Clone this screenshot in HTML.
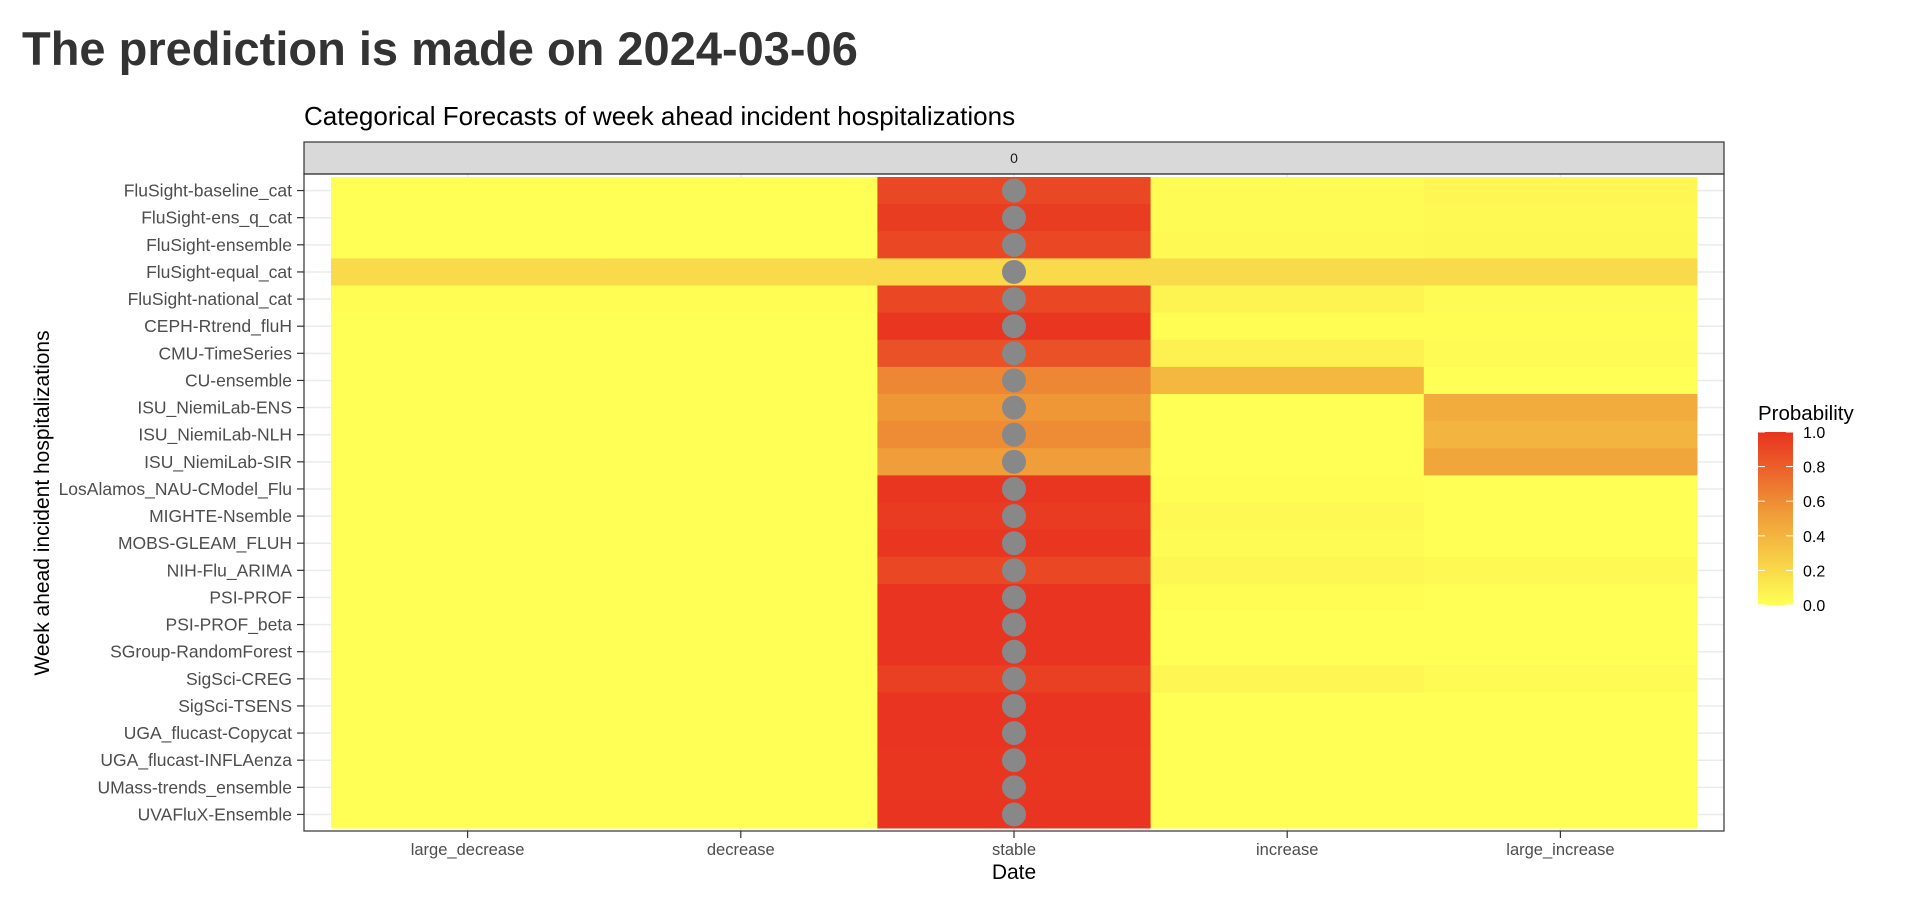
<!DOCTYPE html>
<html><head><meta charset="utf-8"><style>
body{margin:0;background:#fff;}
svg text{font-family:"Liberation Sans",sans-serif;}
</style></head><body>
<svg id="chart" width="1906" height="900" xmlns="http://www.w3.org/2000/svg">
<rect width="1906" height="900" fill="#fff"/>
<text x="22" y="65" font-size="47" font-weight="bold" fill="#333">The prediction is made on 2024-03-06</text>
<text x="304" y="125" font-size="26" fill="#000">Categorical Forecasts of week ahead incident hospitalizations</text>
<g id="grid"></g>
<g id="tiles"></g>
<g id="dots"></g>
<rect x="304" y="142" width="1420" height="32" fill="#d9d9d9" stroke="#333" stroke-width="1.2"/>
<text x="1014" y="163" font-size="14" text-anchor="middle" fill="#1a1a1a" font-family="Liberation Serif">0</text>
<rect x="304" y="174" width="1420" height="657" fill="none" stroke="#333" stroke-width="1.2"/>
<g id="yaxis"></g>
<g id="xaxis"></g>
<text x="1014" y="879" font-size="21" text-anchor="middle" fill="#000">Date</text>
<text transform="translate(49,503) rotate(-90)" font-size="21" text-anchor="middle" fill="#000">Week ahead incident hospitalizations</text>
<g>
<defs><linearGradient id="grad" x1="0" y1="1" x2="0" y2="0">
<stop offset="0" stop-color="#ffff55"/><stop offset="0.5" stop-color="#f0a23a"/><stop offset="1" stop-color="#e8321f"/></linearGradient></defs>
<text x="1758" y="420" font-size="20.5" fill="#000">Probability</text>
<rect x="1758" y="432" width="35" height="173" fill="url(#grad)"/>
<g id="legticks"></g>
</g>
</svg>
<script>
const models=["FluSight-baseline_cat","FluSight-ens_q_cat","FluSight-ensemble","FluSight-equal_cat","FluSight-national_cat","CEPH-Rtrend_fluH","CMU-TimeSeries","CU-ensemble","ISU_NiemiLab-ENS","ISU_NiemiLab-NLH","ISU_NiemiLab-SIR","LosAlamos_NAU-CModel_Flu","MIGHTE-Nsemble","MOBS-GLEAM_FLUH","NIH-Flu_ARIMA","PSI-PROF","PSI-PROF_beta","SGroup-RandomForest","SigSci-CREG","SigSci-TSENS","UGA_flucast-Copycat","UGA_flucast-INFLAenza","UMass-trends_ensemble","UVAFluX-Ensemble"];
const categories=["large_decrease","decrease","stable","increase","large_increase"];
const largeDecrease=[0,0,0,0.2,0.01,0,0,0,0,0,0,0,0,0,0,0,0,0,0,0,0,0,0,0];
const decrease=[0,0,0,0.2,0.01,0,0,0,0,0,0,0,0,0,0,0,0,0,0,0,0,0,0,0];
const stable=[0.9,0.95,0.9,0.2,0.9,0.98,0.86,0.62,0.55,0.6,0.52,0.98,0.96,0.98,0.9,0.99,0.99,0.99,0.94,0.99,0.99,0.98,0.98,0.99];
const increase=[0.02,0.02,0.03,0.2,0.06,0.01,0.08,0.38,0,0,0,0.01,0.03,0.02,0.05,0.01,0,0,0.05,0,0,0,0,0];
const largeIncrease=[0.05,0.03,0.04,0.2,0.02,0.01,0.02,0,0.45,0.4,0.48,0,0,0,0.03,0,0,0,0.02,0,0,0,0,0];
const legendTicks=[0,0.2,0.4,0.6,0.8,1.0];
const series=[largeDecrease,decrease,stable,increase,largeIncrease];
const NS="http://www.w3.org/2000/svg";
const X0=331,X1=1697,Y0=177,Y1=828;
const cw=(X1-X0)/categories.length, rh=(Y1-Y0)/models.length;
const xc=i=>X0+cw*(i+0.5), yc=j=>Y0+rh*(j+0.5);
function col(v){
 const a=[255,255,85],m=[240,162,58],b=[232,50,31];
 let c; if(v<0.5){const t=v/0.5;c=a.map((x,k)=>x+(m[k]-x)*t);}else{const t=(v-0.5)/0.5;c=m.map((x,k)=>x+(b[k]-x)*t);}
 return "rgb("+c.map(Math.round).join(",")+")";
}
function mk(tag,attrs,parent){const e=document.createElementNS(NS,tag);for(const k in attrs)e.setAttribute(k,attrs[k]);document.getElementById(parent).appendChild(e);return e;}
models.forEach((m,j)=>{
 const g=mk("line",{x1:304,x2:1724,y1:yc(j),y2:yc(j),stroke:"#ebebeb","stroke-width":1.5},"grid");
 
 
 const t=mk("text",{x:292,y:yc(j)+6,"font-size":17.5,"text-anchor":"end",fill:"#4d4d4d"},"yaxis");
 t.textContent=m;
 
 
 const tk=mk("line",{x1:297,x2:304,y1:yc(j),y2:yc(j),stroke:"#333","stroke-width":1.2},"yaxis");
 
 
});
categories.forEach((c,i)=>{
 const g=mk("line",{x1:xc(i),x2:xc(i),y1:174,y2:831,stroke:"#ebebeb","stroke-width":1.5},"grid");
 
 
 series[i].forEach((v,j)=>{
  const r=mk("rect",{x:X0+cw*i,y:Y0+rh*j,width:cw+0.5,height:rh+0.5,fill:col(v)},"tiles");
  
  
 });
 const t=mk("text",{x:xc(i),y:855,"font-size":16.5,"text-anchor":"middle",fill:"#4d4d4d"},"xaxis");
 t.textContent=c;
 
 
 const tk=mk("line",{x1:xc(i),x2:xc(i),y1:831,y2:838,stroke:"#333","stroke-width":1.2},"xaxis");
 
 
});
models.forEach((m,j)=>{
 let best=2;series.forEach((s,i)=>{if(s[j]>series[best][j])best=i;});
 const d=mk("circle",{cx:xc(best),cy:yc(j),r:12,fill:"#888888"},"dots");
 
 
});
legendTicks.forEach(v=>{
 const y=605-v*173;
 const t=mk("text",{x:1803,y:y+6,"font-size":16,fill:"#000"},"legticks");
 t.textContent=v.toFixed(1);
 
 
 const l1=mk("line",{x1:1758,x2:1765,y1:y,y2:y,stroke:"#fff","stroke-width":1},"legticks");
 
 
 const l2=mk("line",{x1:1786,x2:1793,y1:y,y2:y,stroke:"#fff","stroke-width":1},"legticks");
 
 
});
</script>
</body></html>
